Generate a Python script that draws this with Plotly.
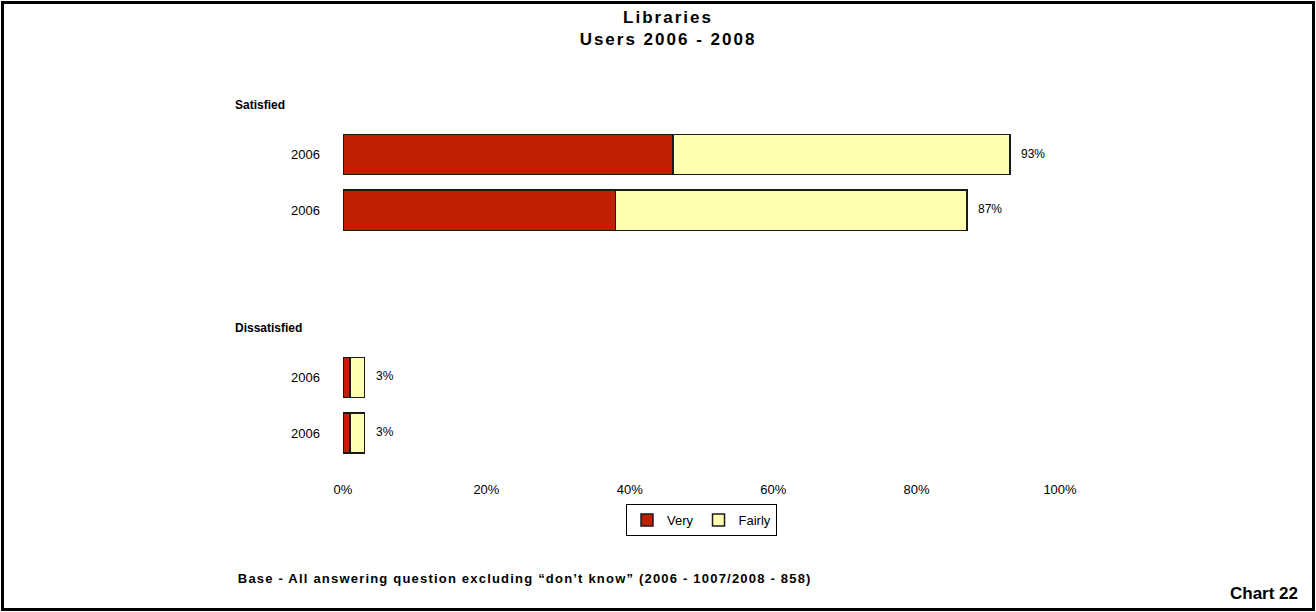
import plotly.graph_objects as go

# Rows of the chart, top to bottom (group headers occupy their own rows)
row_labels = ["", "2006", "2006", "", "", "2006", "2006"]
group_headers = ["Satisfied", "Dissatisfied"]
group_header_rows = [0, 4]

# Bar rows and their values (percent)
bar_rows = [1, 2, 5, 6]
very = [46, 38, 1, 1]
fairly = [47, 49, 2, 2]
totals = [93, 87, 3, 3]

x_ticks = [0, 20, 40, 60, 80, 100]
x_tick_text = ["0%", "20%", "40%", "60%", "80%", "100%"]

RED = "#C02000"
CREAM = "#FFFFB0"
EDGE = "#1A1A1A"
FONT = "Liberation Sans, Arial, sans-serif"

W, H = 1316, 612
L, R, T, B = 343, 256, 71, 151
PW, PH = W - L - R, H - T - B

fig = go.Figure()
fig.add_trace(go.Bar(
    y=bar_rows, x=very, name="Very", orientation="h", width=0.72,
    marker=dict(color=RED, line=dict(color=EDGE, width=1.5)),
    hoverinfo="skip",
))
fig.add_trace(go.Bar(
    y=bar_rows, x=fairly, name="Fairly", orientation="h", width=0.72,
    marker=dict(color=CREAM, line=dict(color=EDGE, width=1.5)),
    hoverinfo="skip",
))

annotations = []
# Total labels just past the end of each stacked bar
for row, tot in zip(bar_rows, totals):
    annotations.append(dict(
        text=f"{tot}%", xref="x", yref="y", x=tot, y=row,
        xanchor="left", yanchor="middle", xshift=9, yshift=1,
        showarrow=False, font=dict(family=FONT, size=12, color="#000000"),
    ))
for txt, row in zip(group_headers, group_header_rows):
    annotations.append(dict(
        text=f"<b>{txt}</b>", xref="paper", yref="y",
        x=(233 - L) / PW, y=row, xanchor="left", yanchor="middle",
        yshift=-6, showarrow=False,
        font=dict(family=FONT, size=12, color="#000000"),
    ))
annotations.append(dict(
    text="<b>Base - All answering question excluding \u201cdon\u2019t know\u201d (2006 - 1007/2008 - 858)</b>",
    xref="paper", yref="paper", x=(282 - L) / PW, y=(T + PH - 578) / PH,
    xanchor="left", yanchor="middle", showarrow=False,
    font=dict(family=FONT, size=13, color="#000000"),
))
annotations.append(dict(
    text="<b>Chart 22</b>", xref="paper", yref="paper",
    x=(1300 - L) / PW, y=(T + PH - 593) / PH,
    xanchor="right", yanchor="middle", showarrow=False,
    font=dict(family=FONT, size=17, color="#000000"),
))

# Outer frame around the whole figure
inset = 2.5
shapes = [dict(
    type="rect", xref="paper", yref="paper",
    x0=(inset - L) / PW, x1=(W - inset - L) / PW,
    y0=(T + PH - (H - inset)) / PH, y1=(T + PH - inset) / PH,
    line=dict(color="#000000", width=3), fillcolor="rgba(0,0,0,0)",
)]

fig.update_layout(
    width=W, height=H,
    margin=dict(l=L, r=R, t=T, b=B, autoexpand=False),
    paper_bgcolor="#FFFFFF", plot_bgcolor="#FFFFFF",
    barmode="stack", bargap=0.28,
    title=dict(
        text="<b>Libraries<br>Users 2006 - 2008</b>",
        x=(W / 2 + 10) / W, xanchor="center", y=1 - 23 / H, yanchor="middle",
        font=dict(family=FONT, size=17, color="#000000"),
    ),
    xaxis=dict(
        range=[0, 100], tickvals=x_ticks, ticktext=x_tick_text,
        showgrid=False, zeroline=False, showline=False, ticks="",
        ticklabelstandoff=19,
        tickfont=dict(family=FONT, size=13, color="#000000"),
    ),
    yaxis=dict(
        range=[6.5, -0.5], tickmode="array",
        tickvals=list(range(len(row_labels))), ticktext=row_labels,
        showgrid=False, zeroline=False, showline=False, ticks="",
        ticklabelstandoff=22,
        tickfont=dict(family=FONT, size=13, color="#000000"),
    ),
    legend=dict(
        orientation="h", x=0.5, xanchor="center",
        y=(T + PH - 504) / PH, yanchor="top",
        bordercolor="#000000", borderwidth=1, bgcolor="#FFFFFF",
        font=dict(family=FONT, size=13, color="#000000"),
        traceorder="normal", itemwidth=30,
    ),
    annotations=annotations,
    shapes=shapes,
)

# Widen the tracking of the title and the base note
spacing_js = """
var gd = document.getElementById('{plot_id}');
gd.querySelectorAll('.gtitle').forEach(function (t) { t.style.letterSpacing = '2px'; });
gd.querySelectorAll('.annotation-text').forEach(function (t) {
  if (t.textContent.indexOf('Base') === 0) { t.style.letterSpacing = '1.2px'; }
});
"""

fig.write_html("out.html", post_script=spacing_js)
